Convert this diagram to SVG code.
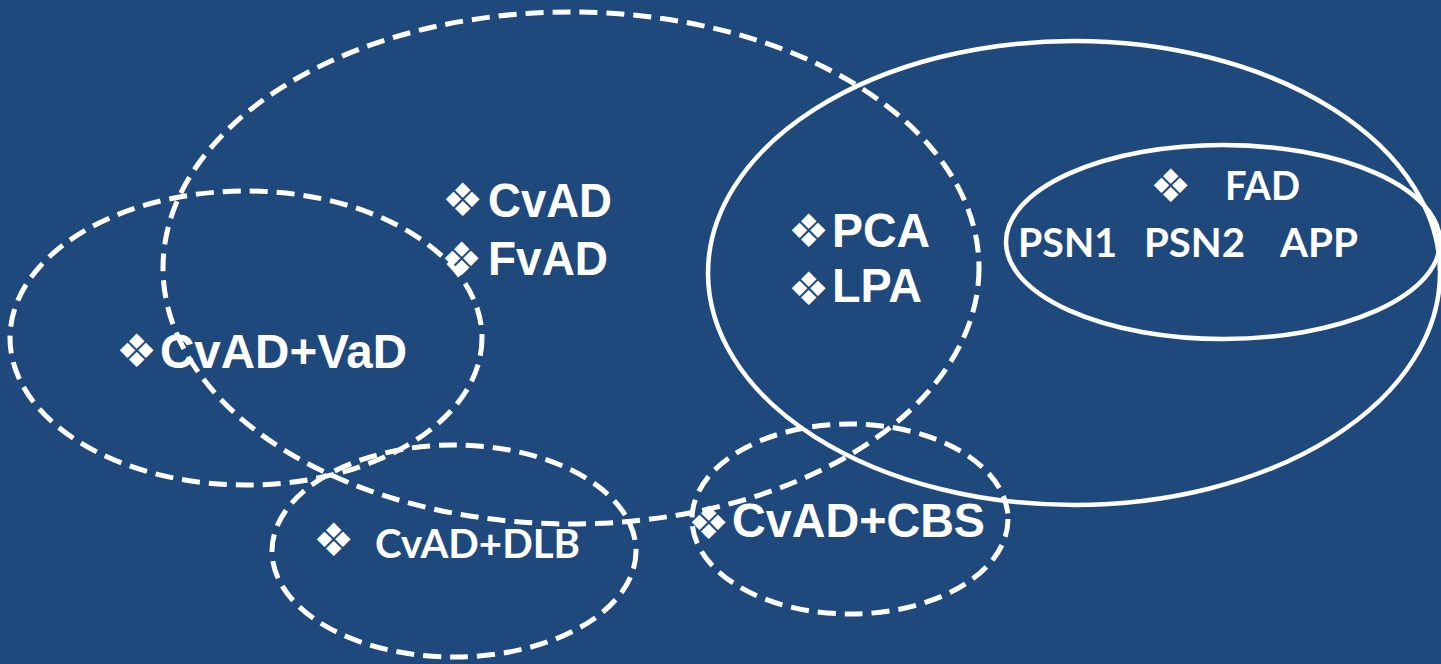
<svg xmlns="http://www.w3.org/2000/svg" width="1441" height="664" viewBox="0 0 1441 664">
<style>
.d{fill:none;stroke:#fff;stroke-width:5;stroke-dasharray:18 9}
.s{fill:none;stroke:#fff;stroke-width:4.5}
.a{font-family:"Liberation Sans",Arial,sans-serif;font-weight:bold;font-size:48px;fill:#fff}
.c{font-family:Lato,"Open Sans",sans-serif;font-weight:bold;font-size:41px;fill:#fff}
.b{font-family:"DejaVu Sans",sans-serif;font-size:46px;fill:#fff}
</style>
<rect width="1441" height="664" fill="#1F497D"/>
<g id="connectors"></g>
<g id="cvad">
<ellipse class="d" cx="571" cy="268" rx="408" ry="256"/>
<text class="b" x="442" y="216">❖</text>
<text class="a" x="488" y="217" textLength="124" lengthAdjust="spacingAndGlyphs">CvAD</text>
<text class="b" x="441" y="275">❖</text>
<text class="a" x="488" y="275" textLength="120" lengthAdjust="spacingAndGlyphs">FvAD</text>
</g>
<g id="vad">
<ellipse class="d" cx="246" cy="338" rx="236" ry="147"/>
<text class="b" x="116" y="367">❖</text>
<text class="a" x="160" y="368" textLength="247" lengthAdjust="spacingAndGlyphs">CvAD+VaD</text>
</g>
<g id="pca">
<ellipse class="s" cx="1074" cy="273" rx="366" ry="232"/>
<text class="b" x="788" y="247">❖</text>
<text class="a" x="832" y="247" textLength="98" lengthAdjust="spacingAndGlyphs">PCA</text>
<text class="b" x="788" y="305">❖</text>
<text class="a" x="832" y="302" textLength="90" lengthAdjust="spacingAndGlyphs">LPA</text>
</g>
<g id="fad">
<ellipse class="s" cx="1223" cy="242" rx="217" ry="97"/>
<text class="b" x="1150" y="202" font-size="44">❖</text>
<text class="c" x="1225" y="200" textLength="75" lengthAdjust="spacingAndGlyphs">FAD</text>
<text class="c" x="1018" y="257" textLength="99" lengthAdjust="spacingAndGlyphs">PSN1</text>
<text class="c" x="1144" y="257" textLength="101" lengthAdjust="spacingAndGlyphs">PSN2</text>
<text class="c" x="1280" y="257" textLength="78" lengthAdjust="spacingAndGlyphs">APP</text>
</g>
<g id="dlb">
<ellipse class="d" cx="454" cy="551" rx="182" ry="106"/>
<text class="b" x="313" y="556" font-size="44">❖</text>
<text class="c" x="375" y="558" textLength="205" lengthAdjust="spacingAndGlyphs">CvAD+DLB</text>
</g>
<g id="cbs">
<ellipse class="d" cx="850" cy="519" rx="158" ry="95"/>
<text class="b" x="688" y="539">❖</text>
<text class="a" x="732" y="537" textLength="253" lengthAdjust="spacingAndGlyphs">CvAD+CBS</text>
</g>
</svg>
